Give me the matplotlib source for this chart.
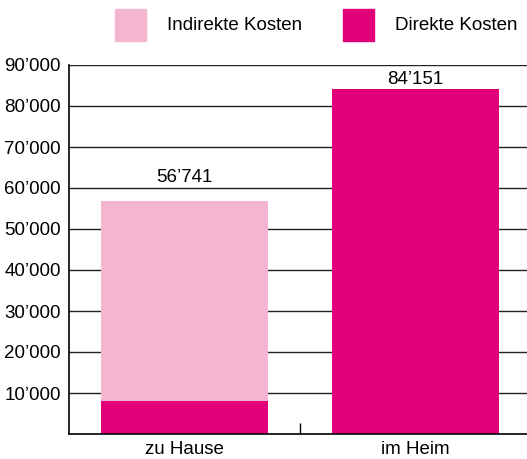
import matplotlib.pyplot as plt
from matplotlib.patches import Rectangle

categories = ["zu Hause", "im Heim"]
direkt = [8000, 84151]
indirekt = [48741, 0]
totals = ["56’741", "84’151"]
yticks = [10000, 20000, 30000, 40000, 50000, 60000, 70000, 80000, 90000]
legend_labels = ["Indirekte Kosten", "Direkte Kosten"]

col_direkt = "#E2007A"
col_indirekt = "#F4B5D0"

plt.rcParams["font.family"] = ["Liberation Sans", "DejaVu Sans"]
fs = 13.5
W, H = 527, 459

fig = plt.figure(figsize=(W / 100, H / 100), dpi=100)
ax = fig.add_axes([69 / W, 25 / H, 462 / W, 369 / H])

x = list(range(len(categories)))
ax.bar(x, direkt, width=0.72, color=col_direkt, zorder=2)
ax.bar(x, indirekt, width=0.72, bottom=direkt, color=col_indirekt, zorder=2)

# gap (pts) between bar top and label baseline differs in the original
label_gap = [19, 5]
for i, lab in enumerate(totals):
    tot = direkt[i] + indirekt[i]
    ax.annotate(lab, (x[i], tot), xytext=(0, label_gap[i] * 0.72), textcoords="offset points",
                ha="center", va="baseline", fontsize=fs)

ax.set_xlim(-0.5, 1.5)
ax.set_ylim(0, 90000)
ax.set_yticks(yticks)
ax.set_yticklabels([f"{v // 1000}’000" for v in yticks], fontsize=fs)
ax.tick_params(axis="y", length=0, pad=6)
ax.yaxis.grid(True, color="#222222", linewidth=1, zorder=0)
ax.set_axisbelow(True)

ax.set_xticks(x)
ax.set_xticklabels(categories, fontsize=fs)
ax.tick_params(axis="x", length=0, pad=5)
ax.set_xticks([0.5], minor=True)
ax.tick_params(axis="x", which="minor", direction="in", length=8, width=1)

for s in ["top", "right"]:
    ax.spines[s].set_visible(False)
ax.spines["left"].set_linewidth(1.2)
ax.spines["bottom"].set_linewidth(1.2)

# legend drawn by hand: square + label
for lab, col, x0 in zip(legend_labels, [col_indirekt, col_direkt], [115, 343]):
    fig.add_artist(Rectangle((x0 / W, 1 - 41 / H), 31 / W, 32 / H,
                             transform=fig.transFigure, color=col))
    fig.text((x0 + 52) / W, 1 - 25 / H, lab, ha="left", va="center", fontsize=fs)

fig.savefig("out.png", dpi=100)
